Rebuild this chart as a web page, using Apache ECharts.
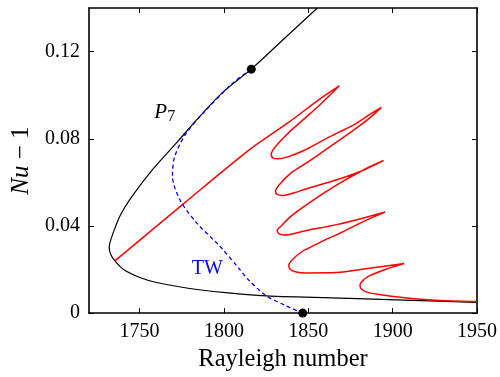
<!DOCTYPE html>
<html>
<head>
<meta charset="utf-8">
<script src="https://cdn.jsdelivr.net/npm/echarts@6/dist/echarts.min.js"></script>
<style>html,body{margin:0;padding:0;background:#fff}#c{width:500px;height:377px}</style>
</head>
<body>
<div id="c"></div>
<script>
// ---- data (Rayleigh number, Nu - 1) ----
const xTicks = [1750, 1800, 1850, 1900, 1950];
const yTicks = [0, 0.04, 0.08, 0.12];

// P7 branch (black)
const p7Ra = [1855.4, 1835.8, 1816.2, 1799.41, 1785.63, 1771.85, 1756.07, 1744.24, 1738.33, 1734.37, 1732.42, 1732.0, 1732.83, 1735.37, 1740.28, 1750.15, 1760.03, 1779.72, 1799.41, 1825.07, 1874.32, 1950];
const p7Nu = [0.14, 0.1260, 0.11195, 0.10140, 0.09027, 0.07810, 0.06437, 0.05216, 0.04452, 0.03692, 0.03235, 0.03006, 0.02699, 0.02393, 0.02013, 0.01633, 0.01405, 0.01130, 0.00947, 0.00792, 0.00673, 0.00490];

// zig-zag branch (red)
const redRa = [1735.37, 1775.58, 1815.19, 1837.84, 1857.59, 1868.41,
  1857.59, 1847.71, 1837.84, 1829.97, 1828.02, 1828.97, 1831.93, 1837.84, 1847.71, 1857.59, 1867.40, 1877.27, 1887.15, 1893.42,
  1885.14, 1877.27, 1867.40, 1857.59, 1849.66, 1839.85, 1832.93, 1830.57, 1831.57, 1834.88, 1841.80, 1847.71, 1867.40, 1881.24, 1894.60,
  1883.19, 1867.40, 1853.62, 1839.85, 1833.94, 1831.57, 1832.34, 1835.89, 1843.75, 1847.71, 1867.40, 1881.24, 1895.60,
  1883.19, 1867.40, 1860.54, 1849.66, 1846.71, 1840.80, 1838.43, 1839.26, 1842.81, 1848.72, 1866.46, 1886.14, 1906.84,
  1896.02, 1886.14, 1882.18, 1880.65, 1881.24, 1884.20, 1892.06, 1905.83, 1925.58, 1950];
const redNu = [0.02393, 0.04987, 0.07503, 0.08725, 0.09869, 0.10431,
  0.09608, 0.08922, 0.08245, 0.07581, 0.07275, 0.07124, 0.07078, 0.07169, 0.07471, 0.07883, 0.08267, 0.08647, 0.09150, 0.09439,
  0.08876, 0.08418, 0.07883, 0.07352, 0.06931, 0.06437, 0.05902, 0.05596, 0.05444, 0.05399, 0.05522, 0.05673, 0.06131, 0.06511, 0.07000,
  0.06588, 0.05902, 0.05216, 0.04452, 0.03994, 0.03811, 0.03660, 0.03582, 0.03692, 0.03765, 0.04072, 0.04333, 0.04635,
  0.04223, 0.03614, 0.03386, 0.02960, 0.02850, 0.02471, 0.02196, 0.02013, 0.01890, 0.01844, 0.01862, 0.02059, 0.02274,
  0.02013, 0.01707, 0.01478, 0.01281, 0.01130, 0.00975, 0.00856, 0.00718, 0.00595, 0.00535];

// travelling-wave branch (blue dashed)
const twRa = [1816.2, 1805.32, 1789.59, 1777.77, 1770.85, 1769.49, 1773.80, 1783.68, 1797.46, 1809.28, 1814.19, 1825.07, 1836.89, 1846.71];
const twNu = [0.11195, 0.10555, 0.09333, 0.08267, 0.07197, 0.06282, 0.05216, 0.04150, 0.03079, 0.02013, 0.01556, 0.00792, 0.00334, 0];

// bifurcation points
const dotRa = [1816.2, 1846.71];
const dotNu = [0.11195, 0];

// label anchors
const p7LabelAt = [1764.9, 0.092];
const twLabelAt = [1790.1, 0.0203];

const zip = (a, b) => a.map((v, i) => [v, b[i]]);
const FONT = '"Liberation Serif", "Times New Roman", serif';

const chart = echarts.init(document.getElementById('c'), null, {renderer: 'canvas'});
const axisCommon = {
  type: 'value',
  axisLine: {show: true, onZero: false, lineStyle: {color: '#000', width: 1.6}},
  splitLine: {show: false}
};
chart.setOption({
  animation: false,
  backgroundColor: '#fff',
  grid: {left: 89, right: 22, top: 8, bottom: 63, containLabel: false},
  xAxis: [
    Object.assign({}, axisCommon, {
      min: 1720, max: 1950, position: 'bottom',
      axisTick: {inside: true, length: 5, customValues: xTicks, lineStyle: {color: '#000', width: 1}},
      axisLabel: {customValues: xTicks, margin: 9, color: '#000', fontFamily: FONT, fontSize: 20,
        formatter: v => String(v)},
      name: 'Rayleigh number', nameLocation: 'middle', nameGap: 32,
      nameTextStyle: {color: '#000', fontFamily: FONT, fontSize: 24.5}
    }),
    Object.assign({}, axisCommon, {
      min: 1720, max: 1950, position: 'top',
      axisTick: {inside: true, length: 5, customValues: xTicks, lineStyle: {color: '#000', width: 1}},
      axisLabel: {show: false}
    })
  ],
  yAxis: [
    Object.assign({}, axisCommon, {
      min: 0, max: 0.14, position: 'left',
      axisTick: {inside: true, length: 5, customValues: yTicks, lineStyle: {color: '#000', width: 1}},
      axisLabel: {customValues: yTicks, margin: 9, color: '#000', fontFamily: FONT, fontSize: 20,
        formatter: v => String(v)},
      name: '{i|Nu}{r| − 1}', nameLocation: 'middle', nameGap: 54, nameRotate: 90,
      nameTextStyle: {color: '#000', fontFamily: FONT, fontSize: 25,
        rich: {
          i: {fontStyle: 'italic', fontFamily: FONT, fontSize: 25, color: '#000'},
          r: {fontFamily: FONT, fontSize: 25, color: '#000'}
        }}
    }),
    Object.assign({}, axisCommon, {
      min: 0, max: 0.14, position: 'right',
      axisTick: {inside: true, length: 5, customValues: yTicks, lineStyle: {color: '#000', width: 1}},
      axisLabel: {show: false}
    })
  ],
  series: [
    {type: 'line', data: zip(p7Ra, p7Nu), showSymbol: false, smooth: 0.3,
     lineStyle: {color: '#000', width: 1.2}},
    {type: 'line', data: zip(redRa, redNu), showSymbol: false, smooth: 0.3,
     lineStyle: {color: '#ff0000', width: 1.5}},
    {type: 'line', data: zip(twRa, twNu), showSymbol: false, smooth: 0.3,
     lineStyle: {color: '#0000ff', width: 1.3, type: [4, 3]}},
    {type: 'scatter', data: zip(dotRa, dotNu), symbolSize: 9, clip: false,
     itemStyle: {color: '#000', opacity: 1}, z: 5},
    {type: 'scatter', data: [p7LabelAt, twLabelAt], symbolSize: 0, silent: true,
     itemStyle: {opacity: 1},
     label: {show: true, position: 'inside', opacity: 1,
       formatter: p => p.dataIndex === 0 ? '{p|P}{s|7}' : '{t|TW}',
       rich: {
         p: {fontFamily: FONT, fontStyle: 'italic', fontSize: 21, color: '#000'},
         s: {fontFamily: FONT, fontSize: 16, color: '#000', padding: [9, 0, 0, 0]},
         t: {fontFamily: FONT, fontSize: 20, color: '#0000ff'}
       }}}
  ]
});
</script>
</body>
</html>
